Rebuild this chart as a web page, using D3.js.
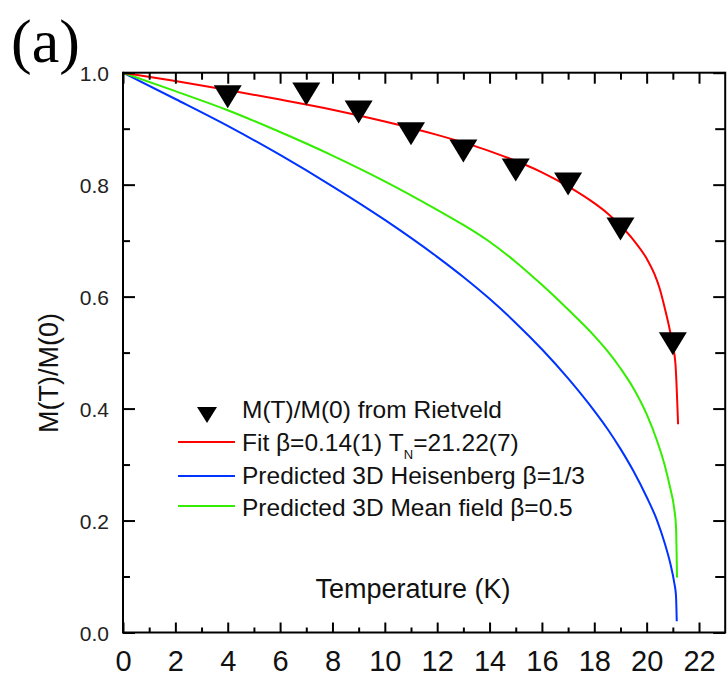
<!DOCTYPE html>
<html><head><meta charset="utf-8">
<script src="https://cdn.jsdelivr.net/npm/d3@7"></script>
<style>body{margin:0;background:#fff}svg{display:block}</style>
</head><body><svg id="c" width="728" height="677"></svg>
<script>
// ---------- data ----------
const xMajorTicks = [0, 2, 4, 6, 8, 10, 12, 14, 16, 18, 20, 22];
const xTickLabels = ["0", "2", "4", "6", "8", "10", "12", "14", "16", "18", "20", "22"];
const xMinorTicks = [1, 3, 5, 7, 9, 11, 13, 15, 17, 19, 21];
const yMajorTicks = [0, 0.2, 0.4, 0.6, 0.8, 1.0];
const yTickLabels = ["0.0", "0.2", "0.4", "0.6", "0.8", "1.0"];
const yMinorTicks = [0.1, 0.3, 0.5, 0.7, 0.9];

// Rietveld points
const dataT = [4, 7, 9, 11, 13, 15, 17, 19, 21];
const dataM = [0.957, 0.962, 0.930, 0.891, 0.860, 0.826, 0.801, 0.721, 0.516];

// Fit beta=0.14
const fitT = [0, 2, 4, 6, 8, 10, 12, 14, 16, 17, 18, 18.5, 19, 19.5, 20, 20.3, 20.5, 20.7, 20.85, 21.0, 21.1, 21.2];
const fitM = [1.0, 0.985, 0.969, 0.952, 0.934, 0.913, 0.889, 0.860, 0.822, 0.797, 0.767, 0.749, 0.727, 0.701, 0.668, 0.640, 0.614, 0.578, 0.548, 0.512, 0.480, 0.372];

// Predicted 3D Heisenberg
const heisT = [0, 2, 4, 6, 8, 10, 12, 13, 14, 15, 16, 17, 18, 18.5, 19, 19.5, 20, 20.4, 20.7, 20.9, 21.05, 21.12, 21.15];
const heisM = [1.0, 0.953, 0.905, 0.853, 0.797, 0.737, 0.671, 0.635, 0.596, 0.553, 0.506, 0.454, 0.396, 0.364, 0.328, 0.288, 0.242, 0.200, 0.158, 0.124, 0.090, 0.066, 0.02];

// Predicted 3D Mean field
const mfT = [0, 2, 4, 6, 8, 10, 12, 13, 14, 15, 16, 17, 18, 18.5, 19, 19.5, 20, 20.4, 20.7, 20.9, 21.05, 21.12, 21.16];
const mfM = [1.0, 0.967, 0.933, 0.894, 0.852, 0.806, 0.755, 0.728, 0.698, 0.662, 0.621, 0.577, 0.530, 0.503, 0.472, 0.436, 0.390, 0.342, 0.297, 0.258, 0.222, 0.190, 0.098];

const legendLabels = ["M(T)/M(0) from Rietveld", "Fit \u03B2=0.14(1) T", "Predicted 3D Heisenberg \u03B2=1/3", "Predicted 3D Mean field \u03B2=0.5"];
const seriesColors = ["#000000", "#ff0000", "#0033ff", "#33ee00"];

// ---------- drawing ----------
const svg = d3.select("#c");
const FONT = "'Liberation Sans', Arial, sans-serif";
const L = 123, R = 725.2, T = 72.7, B = 632.5;
const x = d3.scaleLinear().domain([0, 23]).range([L, R]);
const y = d3.scaleLinear().domain([0, 1]).range([B, T]);

// curves
const line = d3.line().x((d) => x(d[0])).y((d) => y(d[1])).curve(d3.curveMonotoneX);
const curves = [
  { t: heisT, m: heisM, c: seriesColors[2] },
  { t: mfT, m: mfM, c: seriesColors[3] },
  { t: fitT, m: fitM, c: seriesColors[1] }
];
curves.forEach((s) => {
  svg.append("path")
    .datum(s.t.map((t, i) => [t, s.m[i]]))
    .attr("d", line)
    .attr("fill", "none").attr("stroke", s.c).attr("stroke-width", 2)
    .attr("stroke-linejoin", "round");
});

// markers
function downTri(cx, cy, w, h) {
  const p = d3.path();
  p.moveTo(cx - w / 2, cy - h / 2); p.lineTo(cx + w / 2, cy - h / 2); p.lineTo(cx, cy + h / 2); p.closePath();
  return p.toString();
}
svg.append("g").selectAll("path").data(dataT.map((t, i) => [t, dataM[i]])).join("path")
  .attr("d", (d) => downTri(x(d[0]), y(d[1]), 28, 23))
  .attr("fill", "#000");

// axes
function styleAxis(g) { g.select(".domain").remove(); g.selectAll("line").attr("stroke", "#000").attr("stroke-width", 2); }
svg.append("g").attr("transform", `translate(0,${B})`)
  .call(d3.axisBottom(x).tickValues(xMajorTicks).tickSize(-10).tickFormat((d, i) => xTickLabels[i]))
  .call(styleAxis)
  .call((g) => g.selectAll("text").attr("y", 38.5).attr("dy", null)
    .attr("font-family", FONT).attr("font-size", 29).attr("fill", "#111"));
svg.append("g").attr("transform", `translate(0,${B})`)
  .call(d3.axisBottom(x).tickValues(xMinorTicks).tickSize(-5).tickFormat(""))
  .call(styleAxis);
svg.append("g").attr("transform", `translate(0,${T})`)
  .call(d3.axisTop(x).tickValues(xMajorTicks).tickSize(-11).tickFormat(""))
  .call(styleAxis);
svg.append("g").attr("transform", `translate(0,${T})`)
  .call(d3.axisTop(x).tickValues(xMinorTicks).tickSize(-7).tickFormat(""))
  .call(styleAxis);
svg.append("g").attr("transform", `translate(${L},0)`)
  .call(d3.axisLeft(y).tickValues(yMajorTicks).tickSize(-12).tickFormat((d, i) => yTickLabels[i]))
  .call(styleAxis)
  .call((g) => g.selectAll("text").attr("x", -14).attr("dy", "0.36em")
    .attr("font-family", FONT).attr("font-size", 21).attr("fill", "#222"));
svg.append("g").attr("transform", `translate(${L},0)`)
  .call(d3.axisLeft(y).tickValues(yMinorTicks).tickSize(-7).tickFormat(""))
  .call(styleAxis);
svg.append("g").attr("transform", `translate(${R},0)`)
  .call(d3.axisRight(y).tickValues(yMajorTicks).tickSize(-12).tickFormat(""))
  .call(styleAxis);
svg.append("g").attr("transform", `translate(${R},0)`)
  .call(d3.axisRight(y).tickValues(yMinorTicks).tickSize(-10).tickFormat(""))
  .call(styleAxis);

// frame
svg.append("rect").attr("x", L).attr("y", T).attr("width", R - L).attr("height", B - T)
  .attr("fill", "none").attr("stroke", "#000").attr("stroke-width", 2);

// axis titles
svg.append("text").attr("x", 413).attr("y", 598).attr("text-anchor", "middle")
  .attr("font-family", FONT).attr("font-size", 27).attr("fill", "#111").text("Temperature (K)");
svg.append("text").attr("transform", "translate(58,373) rotate(-90)").attr("text-anchor", "middle")
  .attr("font-family", FONT).attr("font-size", 27).attr("fill", "#111").text("M(T)/M(0)");

// panel label
svg.append("text").attr("x", 11).attr("y", 62)
  .attr("font-family", "'Liberation Serif', 'Times New Roman', serif").attr("font-size", 62).attr("fill", "#000").text("(a)");

// legend
const lg = svg.append("g");
const rowBase = [418, 451, 484, 516];
const lineY = [0, 442, 476, 506];
lg.append("path").attr("d", downTri(207, 415, 20, 16)).attr("fill", "#000");
[1, 2, 3].forEach((i) => {
  lg.append("line").attr("x1", 178).attr("x2", 235).attr("y1", lineY[i]).attr("y2", lineY[i])
    .attr("stroke", seriesColors[i]).attr("stroke-width", 2);
});
legendLabels.forEach((lab, i) => {
  const t = lg.append("text").attr("x", 242).attr("y", rowBase[i])
    .attr("font-family", FONT).attr("font-size", 24.5).attr("fill", "#111");
  t.append("tspan").text(lab);
  if (i === 1) {
    t.append("tspan").attr("font-size", 13).attr("dy", 8).text("N");
    t.append("tspan").attr("dy", -8).text("=21.22(7)");
  }
});
</script></body></html>
